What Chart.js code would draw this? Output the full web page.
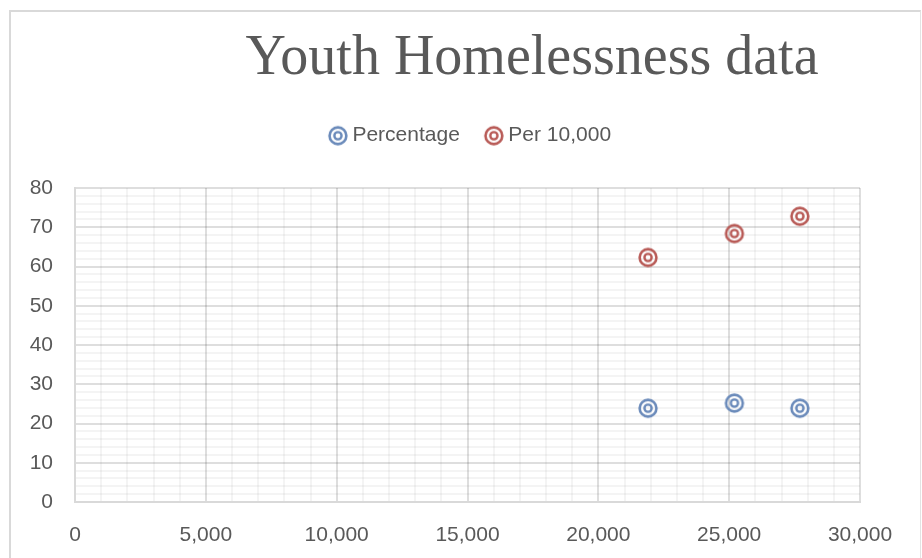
<!DOCTYPE html>
<html>
<head>
<meta charset="utf-8">
<script src="https://cdn.jsdelivr.net/npm/chart.js@4/dist/chart.umd.min.js"></script>
<style>
  html, body { margin: 0; padding: 0; background: #ffffff; overflow: hidden; }
  #wrap { position: relative; width: 922px; height: 558px; }
  #c { position: absolute; left: 0; top: 0; }
  #frame { position: absolute; left: 9px; top: 10px; width: 912px; height: 600px; box-sizing: border-box;
           border-left: 2px solid #d9d9d9; border-top: 2px solid #d9d9d9; border-right: 1px solid #e3e3e3; pointer-events: none; }
</style>
</head>
<body>
<div id="wrap">
  <canvas id="c" width="922" height="558"></canvas>
  <div id="frame"></div>
</div>
<script>
// ---- data ----
const chartTitle = 'Youth Homelessness data';
const seriesNames = ['Percentage', 'Per 10,000'];
const xValues = [21900, 25200, 27700];
const percentageValues = [23.9, 25.2, 23.9];
const per10000Values = [62.3, 68.4, 72.8];
const xTickValues = [0, 5000, 10000, 15000, 20000, 25000, 30000];
const xTickLabels = ['0', '5,000', '10,000', '15,000', '20,000', '25,000', '30,000'];
const yTickValues = [0, 10, 20, 30, 40, 50, 60, 70, 80];
const yTickLabels = ['0', '10', '20', '30', '40', '50', '60', '70', '80'];

// ---- styling ----
const blue = '#6a8aba';
const red = '#b85a56';
const textColor = '#595959';
const majorGrid = 'rgba(0,0,0,0.13)';
const minorGrid = 'rgba(0,0,0,0.045)';

function makeMarker(color) {
  const c = document.createElement('canvas');
  c.width = 24; c.height = 24;
  const g = c.getContext('2d');
  g.strokeStyle = color;
  g.lineWidth = 2.6;
  g.beginPath(); g.arc(12, 12, 8.4, 0, Math.PI * 2); g.stroke();
  g.lineWidth = 2.4;
  g.beginPath(); g.arc(12, 12, 3.6, 0, Math.PI * 2); g.stroke();
  return c;
}
const blueMarker = makeMarker(blue);
const redMarker = makeMarker(red);

const shiftBlocks = {
  id: 'shiftBlocks',
  afterLayout(chart) {
    const t = chart.titleBlock;
    if (t) {
      const w = t.right - t.left;
      const cx = 532;
      t.left = cx - w / 2; t.right = cx + w / 2;
    }
    const l = chart.legend;
    if (l) { l.left += 5; l.right += 5; }
  }
};

new Chart(document.getElementById('c'), {
  type: 'scatter',
  data: {
    datasets: [
      {
        label: seriesNames[0],
        data: xValues.map((x, i) => ({ x: x, y: percentageValues[i] })),
        pointStyle: blueMarker,
        borderColor: blue,
        backgroundColor: blue
      },
      {
        label: seriesNames[1],
        data: xValues.map((x, i) => ({ x: x, y: per10000Values[i] })),
        pointStyle: redMarker,
        borderColor: red,
        backgroundColor: red
      }
    ]
  },
  plugins: [shiftBlocks],
  options: {
    responsive: false,
    animation: false,
    devicePixelRatio: 1,
    events: [],
    layout: { padding: { left: 0, right: 62, top: 0, bottom: 0 } },
    plugins: {
      tooltip: { enabled: false },
      title: {
        display: true,
        text: chartTitle,
        color: textColor,
        font: { family: '"Liberation Serif", serif', size: 56, weight: 'normal', lineHeight: 1.2 },
        padding: { top: 26, bottom: 2 }
      },
      subtitle: {
        display: true,
        text: '',
        font: { size: 10, lineHeight: 1 },
        padding: { top: 21.8, bottom: 0 }
      },
      legend: {
        display: true,
        position: 'top',
        fullSize: false,
        weight: 1800,
        labels: {
          usePointStyle: true,
          pointStyleWidth: 8,
          padding: 30,
          color: textColor,
          font: { family: '"Liberation Sans", Arial, sans-serif', size: 21 }
        }
      }
    },
    scales: {
      x: {
        type: 'linear',
        min: 0,
        max: 30000,
        afterFit(scale) { scale.height = 56; },
        border: { display: true, color: '#d9d9d9', width: 2 },
        grid: {
          drawTicks: false,
          lineWidth: 2,
          color: (ctx) => (ctx.tick && xTickValues.includes(ctx.tick.value)) ? majorGrid : minorGrid
        },
        ticks: {
          stepSize: 1000,
          autoSkip: false,
          maxRotation: 0,
          padding: 21,
          color: textColor,
          font: { family: '"Liberation Sans", Arial, sans-serif', size: 21 },
          callback: (v) => { const i = xTickValues.indexOf(v); return i >= 0 ? xTickLabels[i] : ''; }
        }
      },
      y: {
        type: 'linear',
        min: 0,
        max: 80,
        afterFit(scale) { scale.width = 75; },
        border: { display: true, color: '#d9d9d9', width: 2 },
        grid: {
          drawTicks: false,
          lineWidth: 2,
          color: (ctx) => (ctx.tick && yTickValues.includes(ctx.tick.value)) ? majorGrid : minorGrid
        },
        ticks: {
          stepSize: 2,
          autoSkip: false,
          padding: 22,
          color: textColor,
          font: { family: '"Liberation Sans", Arial, sans-serif', size: 21 },
          callback: (v) => { const i = yTickValues.indexOf(v); return i >= 0 ? yTickLabels[i] : ''; }
        }
      }
    }
  }
});
</script>
</body>
</html>
